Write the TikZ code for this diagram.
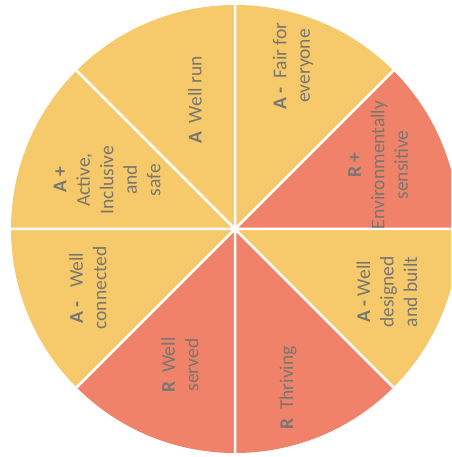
\documentclass[tikz,border=0pt]{standalone}
\usepackage{fontspec}
\setmainfont{Carlito}
\usetikzlibrary{calc}
\definecolor{amber}{RGB}{246,202,106}
\definecolor{coral}{RGB}{240,130,106}
\definecolor{ink}{RGB}{122,118,112}

\begin{document}
\begin{tikzpicture}[x=1pt,y=1pt,
 lbl/.style={rotate=90,align=center,text=ink,inner sep=0pt,font=\fontsize{19.5}{23.5}\selectfont},
 cut/.style={draw=white,line width=2.5pt}]
\clip (0,0) rectangle (451,457);
\fill[white] (0,0) rectangle (451,457);
\coordinate (o) at (235,228);
\fill[coral] (o) -- ++(0:224) arc[start angle=0,end angle=45,radius=224] -- cycle;
\fill[amber] (o) -- ++(45:224) arc[start angle=45,end angle=225,radius=224] -- cycle;
\fill[coral] (o) -- ++(225:224) arc[start angle=225,end angle=315,radius=224] -- cycle;
\fill[amber] (o) -- ++(315:224) arc[start angle=315,end angle=360,radius=224] -- cycle;
\draw[cut] (o) -- +(0:224) (o) -- +(45:224) (o) -- +(90:224) (o) -- +(135:224)
 (o) -- +(180:224) (o) -- +(225:224) (o) -- +(270:224) (o) -- +(315:224);
\node[lbl] (fair) at (293,391) {\textbf{A -}\ \ Fair for\\everyone};
\node[lbl] (env) at (378,292) {\textbf{R +}\\Environmentally\\sensitive};
\node[lbl] (run) at (195,357) {\textbf{A}\ \ Well run};
\node[lbl] (act) at (107,277) {\textbf{A +}\\Active,\\Inclusive\\and\\safe};
\node[lbl] (conn) at (88,169) {\textbf{A -}\ \ \ Well\\connected};
\node[lbl] (serv) at (180,92) {\textbf{R}\ \ Well\\served};
\node[lbl] (thr) at (288,69) {\textbf{R}\ \ Thriving};
\node[lbl] (des) at (387,165) {\textbf{A -}\ Well\\designed\\and built};
\end{tikzpicture}
\end{document}
